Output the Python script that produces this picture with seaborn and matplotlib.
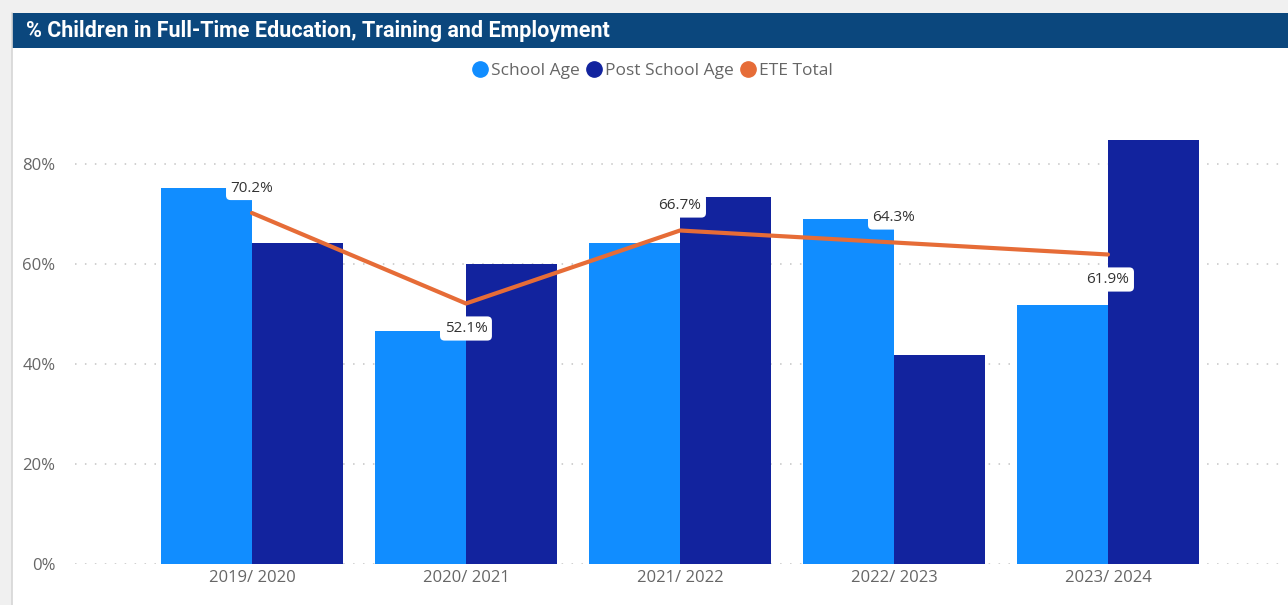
import seaborn as sns
import pandas as pd
import matplotlib.pyplot as plt
from matplotlib.lines import Line2D
from matplotlib.patches import Rectangle

years = ["2019/ 2020", "2020/ 2021", "2021/ 2022", "2022/ 2023", "2023/ 2024"]
school_age = [75.2, 46.6, 64.2, 69.0, 51.8]
post_school_age = [64.2, 60.0, 73.4, 41.8, 84.8]
ete_total = [70.2, 52.1, 66.7, 64.3, 61.9]
label_side = [1, -1, 1, 1, -1]
yticks = [0, 20, 40, 60, 80]

C_SCHOOL = "#118DFF"
C_POST = "#12239E"
C_ETE = "#E66C37"
GREY = "#666666"

df = pd.DataFrame({
    "year": years * 2,
    "value": school_age + post_school_age,
    "series": ["School Age"] * len(years) + ["Post School Age"] * len(years),
})

sns.set_theme(style="white")
plt.rcParams["font.family"] = ["Open Sans", "DejaVu Sans"]

W, H = 1288, 605
fig = plt.figure(figsize=(W / 100, H / 100), dpi=100)

# page background and title bar
fig.patches.append(Rectangle((0, 1 - 13 / H), 1, 13 / H, transform=fig.transFigure,
                             facecolor="#f0f0f0", edgecolor="none", zorder=0))
fig.patches.append(Rectangle((0, 0), 12 / W, 1, transform=fig.transFigure,
                             facecolor="#f0f0f0", edgecolor="none", zorder=0))
fig.add_artist(Line2D([12 / W, 12 / W], [0, 1 - 13 / H], transform=fig.transFigure,
                      color="#d6d6d6", lw=1.2))
fig.patches.append(Rectangle((12 / W, 1 - 48 / H), 1 - 12 / W, 35 / H, transform=fig.transFigure,
                             facecolor="#0B477D", edgecolor="none", zorder=1))
fig.text(26 / W, 1 - 30.5 / H, "% Children in Full-Time Education, Training and Employment",
         color="white", fontsize=15.5, fontweight="bold", va="center", ha="left",
         family=["Roboto", "DejaVu Sans"])

ax = fig.add_axes([75 / W, (H - 564) / H, (1280 - 75) / W, (564 - 105) / H])
sns.barplot(data=df, x="year", y="value", hue="series", order=years,
            hue_order=["School Age", "Post School Age"], saturation=1,
            palette=[C_SCHOOL, C_POST], width=0.85, linewidth=0, ax=ax, legend=False)

xs = list(range(len(years)))
ax.plot(xs, ete_total, color=C_ETE, lw=3, solid_capstyle="round", zorder=5)
for x, v, s in zip(xs, ete_total, label_side):
    ax.annotate(f"{v:.1f}%", (x, v), xytext=(0, 18 * s), textcoords="offset points",
                ha="center", va="center", fontsize=11, color="#333333", zorder=6,
                bbox=dict(boxstyle="round,pad=0.3,rounding_size=0.3", fc="white", ec="none"))

ax.set_xlim(-0.827, 4.804)
ax.set_ylim(0, 91.8)
ax.set_yticks(yticks)
ax.set_yticklabels([f"{t}%" for t in yticks])
ax.set_xlabel("")
ax.set_ylabel("")
ax.tick_params(axis="both", length=0, colors=GREY, labelsize=12)
ax.tick_params(axis="y", pad=14)
ax.tick_params(axis="x", pad=4)
ax.yaxis.grid(True, color="#c4c4c4", lw=1.1, linestyle=(0, (1, 5.5)))
ax.set_axisbelow(True)
for sp in ax.spines.values():
    sp.set_visible(False)

handles = [Line2D([], [], marker="o", ls="none", color=c, markersize=11)
           for c in (C_SCHOOL, C_POST, C_ETE)]
fig.legend(handles, ["School Age", "Post School Age", "ETE Total"], ncol=3, frameon=False,
           loc="center", bbox_to_anchor=(653 / W, 1 - 71 / H), handletextpad=0.2,
           columnspacing=0.45, handlelength=0.8, fontsize=12.5, labelcolor=GREY)

fig.savefig("out.png", dpi=100)
